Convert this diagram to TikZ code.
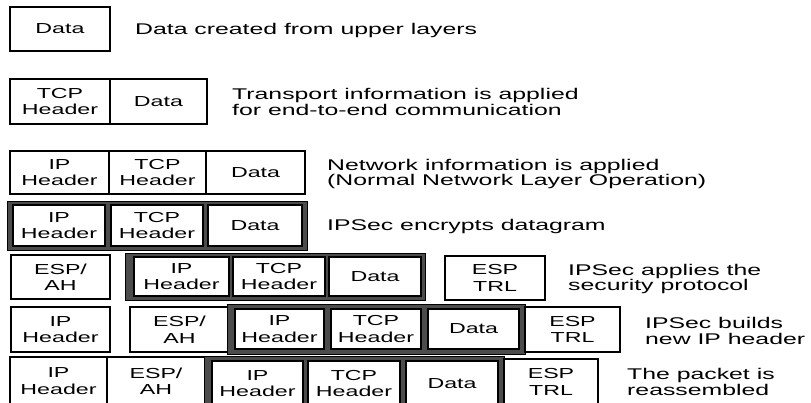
\documentclass[tikz,border=0pt]{standalone}
\usepackage{fontspec}
\setmainfont{Liberation Sans}[FakeStretch=1.6]
\begin{document}
\begin{tikzpicture}[x=1pt,y=-1pt,
  cell/.style={draw=black, line width=1.1pt, fill=white, inner sep=0pt, outer sep=0pt, align=center,
    anchor=center, font=\fontsize{14.5}{16.5}\selectfont},
  frame/.style={draw=black, line width=0.8pt, fill=black!70, inner sep=0pt, outer sep=0pt, anchor=center},
  lbl/.style={anchor=west, align=left, inner sep=0pt, font=\fontsize{15.5}{15.5}\selectfont}]
\newcommand\mkcell[6]{\node[cell, minimum width={(#4-#2)*1pt}, minimum height={(#5-#3)*1pt}]
  (#1) at ({(#2+#4)/2},{(#3+#5)/2}) {#6};}
\newcommand\mkframe[5]{\node[frame, minimum width={(#4-#2)*1pt}, minimum height={(#5-#3)*1pt}]
  (#1) at ({(#2+#4)/2},{(#3+#5)/2}) {};}
\clip (0,0) rectangle (811,403);
\fill[white] (0,0) rectangle (811,403);
% Row 1
\mkcell{r1d}{10}{7}{110}{51}{Data}
\node[lbl] (l1) at (135,30) {Data created from upper layers};
% Row 2
\mkcell{r2t}{10}{79}{110}{124}{TCP\\Header}
\mkcell{r2d}{110}{79}{207}{124}{Data}
\node[lbl] (l2) at (232,102) {Transport information is applied\\for end-to-end communication};
% Row 3
\mkcell{r3i}{10}{151}{109}{194}{IP\\Header}
\mkcell{r3t}{109}{151}{206}{194}{TCP\\Header}
\mkcell{r3d}{206}{151}{305}{194}{Data}
\node[lbl] (l3) at (327,174) {Network information is applied\\(Normal Network Layer Operation)};
% Row 4
\mkframe{f4}{7}{201}{307}{250}
\mkcell{r4i}{13}{205}{105}{246}{IP\\Header}
\mkcell{r4t}{111}{205}{203}{246}{TCP\\Header}
\mkcell{r4d}{208}{205}{302}{246}{Data}
\node[lbl] (l4) at (327,226) {IPSec encrypts datagram};
% Row 5
\mkcell{r5e}{11}{255}{110}{299}{ESP/\\AH}
\mkframe{f5}{125}{253}{425}{300}
\mkcell{r5i}{134}{257}{229}{296}{IP\\Header}
\mkcell{r5t}{233}{257}{325}{296}{TCP\\Header}
\mkcell{r5d}{329}{257}{421}{296}{Data}
\mkcell{r5x}{445}{256}{545}{300}{ESP\\TRL}
\node[lbl] (l5) at (568,279) {IPSec applies the\\security protocol};
% Row 6
\mkcell{r6i}{11}{307}{110}{352}{IP\\Header}
\mkcell{r6e}{130}{307}{229}{352}{ESP/\\AH}
\mkframe{f6}{227}{304}{525}{354}
\mkcell{r6ii}{235}{309}{324}{349}{IP\\Header}
\mkcell{r6t}{331}{309}{421}{349}{TCP\\Header}
\mkcell{r6d}{428}{309}{519}{349}{Data}
\mkcell{r6x}{525}{307}{620}{352}{ESP\\TRL}
\node[lbl] (l6) at (645,331) {IPSec builds\\new IP header};
% Row 7
\mkcell{r7i}{10}{357}{107}{405}{IP\\Header}
\mkcell{r7e}{107}{357}{205}{405}{ESP/\\AH}
\mkframe{f7}{204}{356}{504}{412}
\mkcell{r7ii}{212}{361}{303}{406}{IP\\Header}
\mkcell{r7t}{308}{361}{400}{406}{TCP\\Header}
\mkcell{r7d}{406}{361}{498}{406}{Data}
\mkcell{r7x}{504}{359}{598}{405}{ESP\\TRL}
\node[lbl] (l7) at (627,382) {The packet is\\reassembled};
\end{tikzpicture}
\end{document}
